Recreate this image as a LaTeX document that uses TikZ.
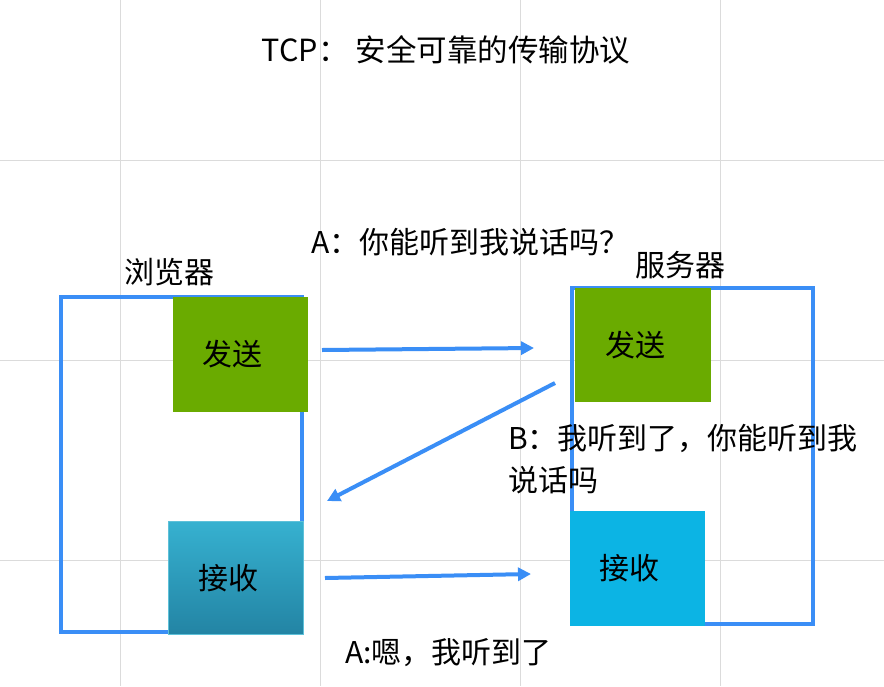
\documentclass[tikz,border=0pt]{standalone}
\usepackage{fontspec}
\setmainfont{Noto Sans CJK SC}
\usetikzlibrary{arrows.meta}

\definecolor{tcpblue}{HTML}{3A8EF6}
\definecolor{sendgreen}{HTML}{6AAB00}
\definecolor{recvcyan}{HTML}{0CB4E4}
\definecolor{recvtop}{HTML}{36B1D0}
\definecolor{recvbot}{HTML}{2384A4}

\tikzset{
    gridline/.style={draw=black!14, line width=1pt},
    hostframe/.style={draw=tcpblue, line width=4pt, inner sep=0pt},
    sendbox/.style={fill=sendgreen, inner sep=0pt, font=\fontsize{30}{34}\selectfont},
    recvbox/.style={fill=recvcyan, inner sep=0pt, font=\fontsize{30}{34}\selectfont},
    msg/.style={draw=tcpblue, line width=4pt, -{Triangle[length=13pt,width=13pt]}},
    says/.style={inner sep=0pt, font=\fontsize{30}{42}\selectfont}
}

\begin{document}
\begin{tikzpicture}[x=1pt, y=-1pt]

    % page and grid
    \useasboundingbox (0,0) rectangle (884,686);
    \fill[white] (0,0) rectangle (884,686);
    \foreach \x in {120, 320, 520, 720}
        \draw[gridline] (\x,0) -- (\x,686);
    \foreach \y in {160, 360, 560}
        \draw[gridline] (0,\y) -- (884,\y);

    % title
    \node[says, font=\fontsize{30.5}{34}\selectfont] (title) at (446,50) {TCP： 安全可靠的传输协议};

    % browser side
    \node[hostframe, minimum width=241pt, minimum height=335pt] (browser) at (181.5,464.5) {};
    \node[says] (browserlbl) at (169,272) {浏览器};
    \node[sendbox, minimum width=135pt, minimum height=115pt] (bsend) at (240.5,354.5) {发送\kern16pt};
    \node[recvbox, top color=recvtop, bottom color=recvbot, draw=recvtop!80!white, line width=1pt,
          minimum width=135pt, minimum height=113pt] (brecv) at (236,578) {接收\kern16pt};

    % server side
    \node[hostframe, minimum width=241pt, minimum height=336pt] (server) at (692.5,456) {};
    \node[says] (serverlbl) at (680,265) {服务器};
    \node[sendbox, minimum width=136pt, minimum height=114pt] (ssend) at (643,345) {发送\kern16pt};
    \node[recvbox, minimum width=135pt, minimum height=115pt] (srecv) at (637.5,568.5) {接收\kern16pt};

    % arrow ends
    \coordinate (synfrom) at (322,350);
    \coordinate (synto) at (534,348);
    \coordinate (ackfrom) at (555,383);
    \coordinate (ackto) at (327,501);
    \coordinate (finfrom) at (325,578);
    \coordinate (finto) at (531,574);

    % messages
    \draw[msg] (synfrom) -- (synto);
    \draw[msg] (ackfrom) -- (ackto);
    \draw[msg] (finfrom) -- (finto);

    \node[says, anchor=west] (synmsg) at (311,242) {A：你能听到我说话吗？};
    \node[says, anchor=west, align=left] (ackmsg) at (508,459) {B：我听到了，你能听到我\\说话吗};
    \node[says, anchor=west] (finmsg) at (345,653) {A:嗯，我听到了};

\end{tikzpicture}
\end{document}
